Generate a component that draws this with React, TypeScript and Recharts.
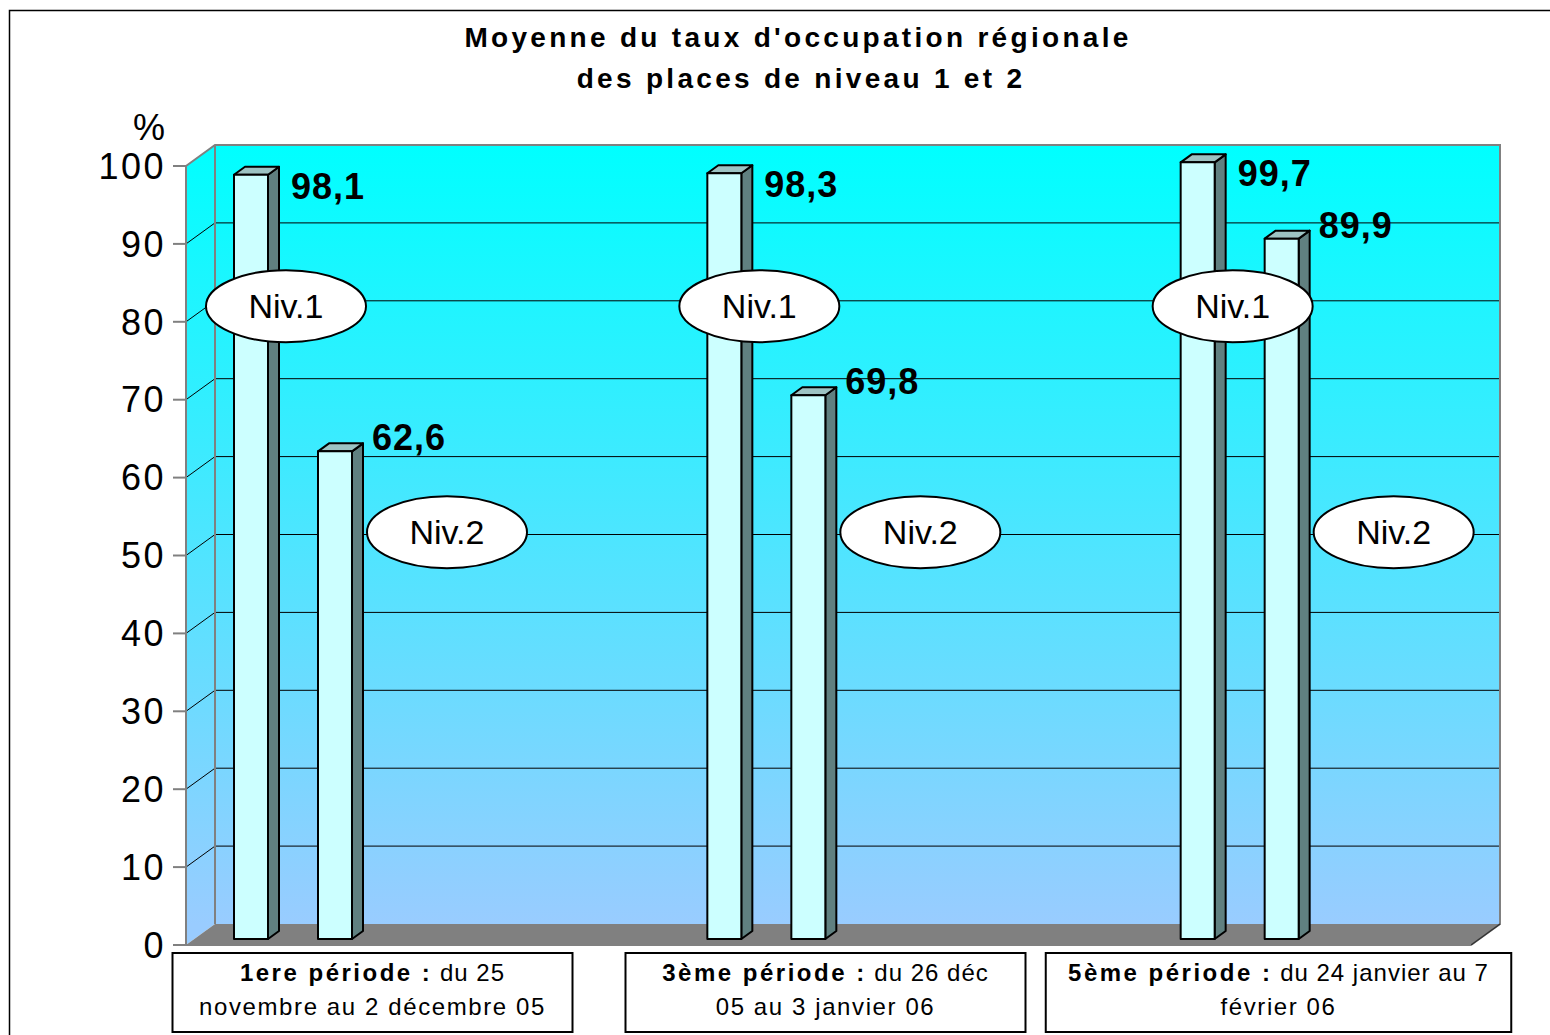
import React from 'react'
import { BarChart, Bar, XAxis, YAxis, ReferenceArea, LabelList } from 'recharts'

// periods (category labels, split the way they wrap in the boxes)
const periods = ['1ere période :', '3ème période :', '5ème période :']
const periodLine1 = ['du 25', 'du 26 déc', 'du 24 janvier au 7']
const periodLine2 = ['novembre au 2 décembre 05', '05 au 3 janvier 06', 'février 06']

// average occupancy, %
const niv1 = [98.1, 98.3, 99.7]
const niv2 = [62.6, 69.8, 89.9]

const yTicks = [0, 10, 20, 30, 40, 50, 60, 70, 80, 90, 100]

const data = periods.map((period, i) => ({ period, niv1: niv1[i], niv2: niv2[i] }))

const FONT = '"Liberation Sans", Arial, sans-serif'

// fake 3D: depth of the wall box and of the bars
const DX = 29
const DY = -21
const BAR_DX = 11
const BAR_DY = -8
const LIFT = 6

const Walls = (props: any) => {
  const { x, y, width: w, height: h } = props
  const bottom = y + h
  return (
    <g>
      <defs>
        <linearGradient id="wallGrad" gradientUnits="userSpaceOnUse" x1={0} y1={y + DY} x2={0} y2={bottom + DY}>
          <stop offset="0%" stopColor="#00FFFF" />
          <stop offset="100%" stopColor="#99CCFF" />
        </linearGradient>
      </defs>
      <polygon
        points={`${x},${y} ${x + DX},${y + DY} ${x + DX},${bottom + DY} ${x},${bottom}`}
        fill="url(#wallGrad)"
      />
      <rect x={x + DX} y={y + DY} width={w} height={h} fill="url(#wallGrad)" />
      {yTicks.filter((v) => v > 0 && v < 100).map((v) => {
        const yy = y + h * (1 - v / 100)
        return (
          <g key={v}>
            <line x1={x + DX} y1={yy + DY} x2={x + w + DX} y2={yy + DY} stroke="#000" strokeWidth={1} />
            <line x1={x} y1={yy} x2={x + DX} y2={yy + DY} stroke="#000" strokeWidth={1} />
          </g>
        )
      })}
      <polygon
        points={`${x},${bottom} ${x + DX},${bottom + DY} ${x + w + DX},${bottom + DY} ${x + w},${bottom}`}
        fill="#808080"
      />
      <polyline
        points={`${x},${y} ${x + DX},${y + DY} ${x + w + DX},${y + DY} ${x + w + DX},${bottom + DY} ${x + w},${bottom}`}
        fill="none"
        stroke="#808080"
        strokeWidth={2}
      />
      <line x1={x + w + DX} y1={bottom + DY} x2={x + w} y2={bottom} stroke="#333" strokeWidth={1.5} />
      <line x1={x + DX} y1={y + DY} x2={x + DX} y2={bottom + DY} stroke="#808080" strokeWidth={2} />
      <line x1={x} y1={bottom} x2={x + w} y2={bottom} stroke="#808080" strokeWidth={2} />
    </g>
  )
}

const Prism = (props: any) => {
  const { x, y, width: w, height: h } = props
  if (!h || h <= 0) return null
  const top = y - LIFT
  const bot = y + h - LIFT
  return (
    <g stroke="#000" strokeWidth={2} strokeLinejoin="round">
      <polygon
        points={`${x + w},${top} ${x + w + BAR_DX},${top + BAR_DY} ${x + w + BAR_DX},${bot + BAR_DY} ${x + w},${bot}`}
        fill="#608080"
      />
      <polygon
        points={`${x},${top} ${x + BAR_DX},${top + BAR_DY} ${x + w + BAR_DX},${top + BAR_DY} ${x + w},${top}`}
        fill="#9DC3C3"
      />
      <rect x={x} y={top} width={w} height={h} fill="#CCFFFF" />
    </g>
  )
}

const valueLabel = (dx: number, dy: number) => (props: any) => {
  const vb = props.viewBox ?? props
  const { x, y, width } = vb
  return (
    <text
      x={x + width + dx}
      y={y - LIFT + dy}
      fontFamily={FONT}
      fontSize={36}
      fontWeight="bold"
      letterSpacing={1}
      fill="#000"
    >
      {Number(props.value).toFixed(1).replace('.', ',')}
    </text>
  )
}

const callout = (text: string, dx: number, level: number) => (props: any) => {
  const vb = props.viewBox ?? props
  const { x, y, width, height } = vb
  const value = Number(props.value)
  const cy = y + height - (level * height) / value
  const cx = x + width / 2 + dx
  return (
    <g>
      <ellipse cx={cx} cy={cy} rx={80} ry={36} fill="#fff" stroke="#000" strokeWidth={2} />
      <text x={cx} y={cy + 12} textAnchor="middle" fontFamily={FONT} fontSize={34} fill="#000">
        {text}
      </text>
    </g>
  )
}

const PeriodTick = (props: any) => {
  const { x, y, payload } = props
  const i = periods.indexOf(payload.value)
  // box grows with the first line of text
  const chars = payload.value.length + 1 + periodLine1[i].length
  const w = Math.max(400, chars * 13.5 + 20)
  return (
    <g>
      <rect x={x - w / 2} y={y + 8} width={w} height={79} fill="#fff" stroke="#000" strokeWidth={2} />
      <text x={x} y={y + 36} textAnchor="middle" fontFamily={FONT} fontSize={24} fill="#000">
        <tspan fontWeight="bold" letterSpacing={2.5}>{payload.value}</tspan>
        <tspan letterSpacing={1}> {periodLine1[i]}</tspan>
      </text>
      <text x={x} y={y + 70} textAnchor="middle" fontFamily={FONT} fontSize={24} letterSpacing={1.6} fill="#000">
        {periodLine2[i]}
      </text>
    </g>
  )
}

export default function App() {
  return (
    <div style={{ position: 'relative', width: 1550, height: 1035, background: '#fff' }}>
      <style>{'body{margin:0}'}</style>
      <BarChart
        width={1550}
        height={1035}
        data={data}
        margin={{ top: 166, right: 79, bottom: 0, left: 0 }}
        barGap={50}
        barSize={34}
      >
        <XAxis xAxisId="frame" dataKey="period" hide height={0} />
        <XAxis xAxisId="bars" dataKey="period" hide height={0} padding={{ left: -130, right: -5 }} />
        <XAxis
          xAxisId="labels"
          dataKey="period"
          height={90}
          padding={{ left: -40, right: -34 }}
          axisLine={false}
          tickLine={false}
          tickSize={0}
          tickMargin={0}
          interval={0}
          tick={<PeriodTick />}
        />
        <YAxis
          width={186}
          domain={[0, 100]}
          ticks={yTicks}
          interval={0}
          tickSize={13}
          tickMargin={7}
          axisLine={{ stroke: '#808080', strokeWidth: 2 }}
          tickLine={{ stroke: '#808080', strokeWidth: 2 }}
          tick={{ fontFamily: FONT, fontSize: 36, fill: '#000', letterSpacing: 2.5 }}
        />
        <ReferenceArea xAxisId="frame" y1={0} y2={100} ifOverflow="visible" shape={<Walls />} />
        <Bar xAxisId="bars" dataKey="niv1" shape={<Prism />} isAnimationActive={false}>
          <LabelList dataKey="niv1" content={callout('Niv.1', 35, 82)} />
          <LabelList dataKey="niv1" content={valueLabel(23, 24)} />
        </Bar>
        <Bar xAxisId="bars" dataKey="niv2" shape={<Prism />} isAnimationActive={false}>
          <LabelList dataKey="niv2" content={callout('Niv.2', 112, 53)} />
          <LabelList dataKey="niv2" content={valueLabel(20, -1)} />
        </Bar>
      </BarChart>
      <svg
        width={1550}
        height={1035}
        style={{ position: 'absolute', left: 0, top: 0, pointerEvents: 'none' }}
      >
        <rect x={9.5} y={10.5} width={1600} height={1100} fill="none" stroke="#000" strokeWidth={1.5} />
        <text x={798} y={47} textAnchor="middle" fontFamily={FONT} fontSize={28} fontWeight="bold" letterSpacing={3.3}>
          Moyenne du taux d'occupation régionale
        </text>
        <text x={801} y={88} textAnchor="middle" fontFamily={FONT} fontSize={28} fontWeight="bold" letterSpacing={3.3}>
          des places de niveau 1 et 2
        </text>
        <text x={149} y={140} textAnchor="middle" fontFamily={FONT} fontSize={36}>
          %
        </text>
      </svg>
    </div>
  )
}
